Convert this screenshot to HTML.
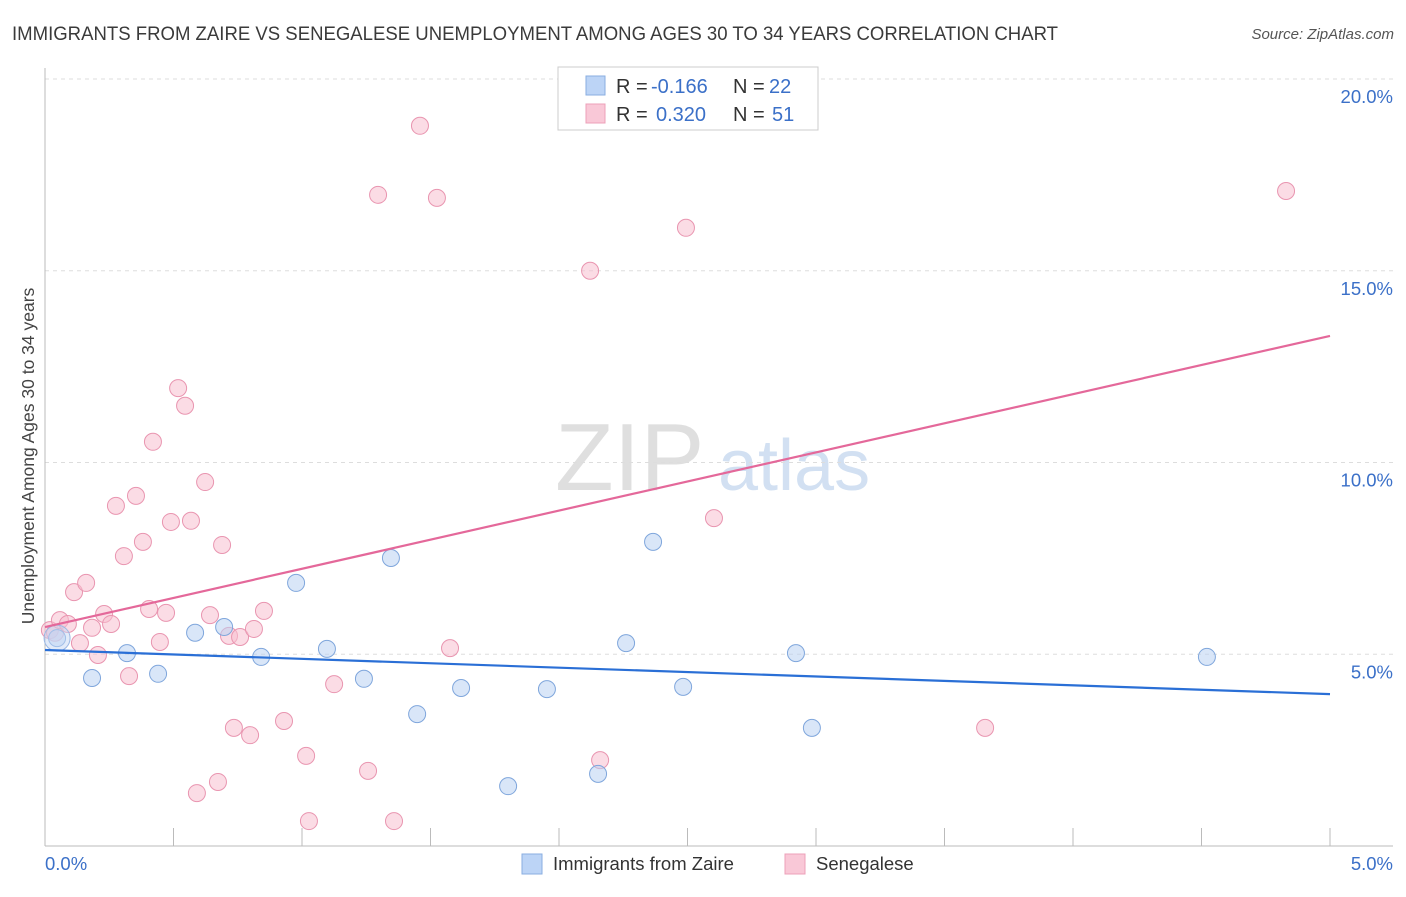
<!DOCTYPE html>
<html><head><meta charset="utf-8"><style>
body{margin:0;background:#fff;font-family:"Liberation Sans",sans-serif;}
svg text{font-family:"Liberation Sans",sans-serif;}
</style></head><body>
<svg id="chart" width="1406" height="892" xmlns="http://www.w3.org/2000/svg">
<text x="12" y="40" font-size="19" fill="#3a3a3a" textLength="1046" lengthAdjust="spacingAndGlyphs">IMMIGRANTS FROM ZAIRE VS SENEGALESE UNEMPLOYMENT AMONG AGES 30 TO 34 YEARS CORRELATION CHART</text>
<text x="1394" y="39" font-size="15" fill="#555" text-anchor="end" font-style="italic">Source: ZipAtlas.com</text>
<g><text x="555" y="490" font-size="96" fill="#d8d8d8" font-family="Liberation Serif" opacity="0.8">ZIP</text><text x="718" y="490" font-size="72" fill="#c7d9ef" opacity="0.8">atlas</text></g>
<g id="grid"></g><g id="axes"></g><g id="marks"></g>
<text transform="translate(34,456) rotate(-90)" font-size="17.5" fill="#444" text-anchor="middle">Unemployment Among Ages 30 to 34 years</text>
<g font-size="20">
<rect x="558" y="67" width="260" height="63" fill="#fff" stroke="#ccc"/>
<rect x="586" y="76" width="19" height="19" fill="#bcd4f6" stroke="#8aaee0"/>
<rect x="586" y="104" width="19" height="19" fill="#f9c8d7" stroke="#eda0b8"/>
<text x="616" y="93" fill="#333">R =</text><text x="651" y="93" fill="#3b70c8">-0.166</text>
<text x="733" y="93" fill="#333">N =</text><text x="769" y="93" fill="#3b70c8">22</text>
<text x="616" y="121" fill="#333">R =</text><text x="656" y="121" fill="#3b70c8">0.320</text>
<text x="733" y="121" fill="#333">N =</text><text x="772" y="121" fill="#3b70c8">51</text>
</g>
<g>
<rect x="522" y="854" width="20" height="20" fill="#bcd4f6" stroke="#8aaee0"/>
<text x="553" y="870" font-size="18.5" fill="#333">Immigrants from Zaire</text>
<rect x="785" y="854" width="20" height="20" fill="#f9c8d7" stroke="#eda0b8"/>
<text x="816" y="870" font-size="18.5" fill="#333">Senegalese</text>
</g>
</svg>
<script>
const blueX=[0.047,0.183,0.319,0.440,0.584,0.697,0.841,0.977,1.097,1.241,1.346,1.448,1.619,1.802,1.953,2.152,2.261,2.366,2.483,2.922,2.984,4.521];
const blueY=[5.42,4.38,5.03,4.49,5.56,5.71,4.93,6.86,5.14,4.36,7.51,3.44,4.12,1.56,4.09,1.88,5.29,7.93,4.15,5.03,3.08,4.93];
const pinkX=[0.019,0.039,0.058,0.089,0.113,0.136,0.160,0.183,0.206,0.230,0.257,0.276,0.307,0.327,0.354,0.381,0.405,0.420,0.447,0.471,0.490,0.518,0.545,0.568,0.591,0.623,0.642,0.673,0.689,0.716,0.735,0.759,0.798,0.813,0.852,0.930,1.016,1.027,1.125,1.257,1.296,1.358,1.459,1.525,1.576,2.121,2.160,2.494,2.603,3.658,4.829];
const pinkY=[5.63,5.56,5.89,5.79,6.62,5.29,6.86,5.69,4.98,6.05,5.79,8.87,7.56,4.43,9.13,7.93,6.18,10.54,5.32,6.08,8.45,11.94,11.48,8.48,1.38,9.49,6.02,1.67,7.85,5.48,3.08,5.45,2.89,5.66,6.13,3.26,2.35,0.65,4.22,1.96,16.98,0.65,18.78,16.90,5.16,15.0,2.24,16.12,8.55,3.08,17.08];
const blueTrend=[5.11,3.96];
const pinkTrend=[5.71,13.30];
const yTicks=[5,10,15,20];
const yTickLabels=["5.0%","10.0%","15.0%","20.0%"];
const xTickLabels=["0.0%","5.0%"];
const NS="http://www.w3.org/2000/svg";
const X=v=>45+v/5*1285, Y=v=>846-v*38.35;
function mk(p,t,a){const e=document.createElementNS(NS,t);for(const k in a)e.setAttribute(k,a[k]);document.getElementById(p).appendChild(e);return e;}
yTicks.forEach((t,i)=>{
 const g=mk('grid','line',{x1:45,x2:1393,y1:Y(t),y2:Y(t),stroke:'#ddd','stroke-dasharray':'4,4'});
 
 
 const l=mk('axes','text',{x:1393,y:Y(t)+24,'font-size':18.5,fill:'#3b70c8','text-anchor':'end'});
 l.textContent=yTickLabels[i];
 
 
});
const ax=mk('axes','line',{x1:45,x2:45,y1:68,y2:846,stroke:'#bbb'});


const bx=mk('axes','line',{x1:45,x2:1393,y1:846,y2:846,stroke:'#bbb'});


for(let k=0;k<=10;k++){const t=mk('axes','line',{x1:X(k*0.5),x2:X(k*0.5),y1:828,y2:846,stroke:'#bbb'});
 
 }
[[0,'start',45],[5,'end',1393]].forEach((d,i)=>{const l=mk('axes','text',{x:d[2],y:870,'font-size':18.5,fill:'#3b70c8','text-anchor':d[1]});l.textContent=xTickLabels[i];
 
 });
function dots(xs,ys,fill,stroke,name){xs.forEach((x,i)=>{const c=mk('marks','circle',{cx:X(x),cy:Y(ys[i]),r:8.5,fill:fill,'fill-opacity':0.55,stroke:stroke,'stroke-width':1});
 
 });}
dots(pinkX,pinkY,'#f7bfd0','#e995b0','senegalese-point');
dots(blueX,blueY,'#b9d1f3','#7fa6dc','zaire-point');
const big=mk('marks','circle',{cx:X(0.047),cy:Y(5.42),r:13,fill:'#c6d8f3','fill-opacity':0.5,stroke:'#9bb8e4'});


const tb=mk('marks','line',{x1:X(0),y1:Y(blueTrend[0]),x2:X(5),y2:Y(blueTrend[1]),stroke:'#2a6fd6','stroke-width':2.2});


const tp=mk('marks','line',{x1:X(0),y1:Y(pinkTrend[0]),x2:X(5),y2:Y(pinkTrend[1]),stroke:'#e4689a','stroke-width':2.2});


</script>
</body></html>
